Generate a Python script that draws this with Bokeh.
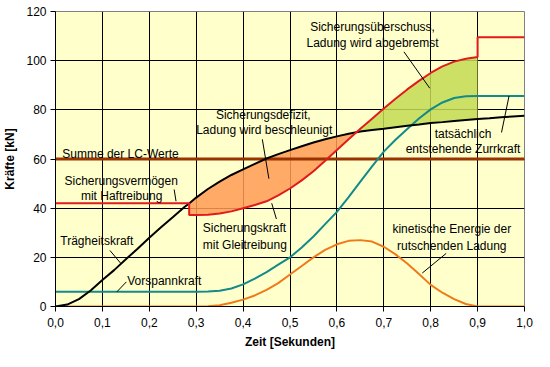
import numpy as np
from bokeh.plotting import figure
from bokeh.models import Range1d, FixedTicker, CustomJSTickFormatter
from bokeh.core.properties import value
from bokeh.embed import file_html
from bokeh.resources import INLINE

# ---------------- data ----------------
t_black = [0.0, 0.025, 0.05, 0.075, 0.1, 0.125, 0.15, 0.175, 0.2, 0.225, 0.25, 0.275, 0.285,
           0.3, 0.325, 0.35, 0.375, 0.4, 0.425, 0.45, 0.475, 0.5, 0.525, 0.55, 0.575, 0.6,
           0.625, 0.65, 0.675, 0.7, 0.725, 0.75, 0.775, 0.8, 0.825, 0.85, 0.875, 0.9,
           0.925, 0.95, 0.975, 1.0]
traegheit = [0.0, 0.8, 3.0, 6.5, 10.8, 14.8, 19.2, 23.5, 28.0, 32.2, 36.3, 40.5, 41.9,
             44.3, 47.8, 50.8, 53.5, 55.8, 58.0, 60.2, 62.0, 63.6, 65.2, 66.7, 68.0, 69.2,
             70.3, 71.2, 71.8, 72.3, 72.9, 73.5, 74.0, 74.6, 75.0, 75.5, 75.9, 76.3,
             76.6, 77.0, 77.3, 77.6]

t_red = [0.0, 0.285, 0.285, 0.3, 0.325, 0.35, 0.375, 0.4, 0.425, 0.45, 0.475, 0.5, 0.525,
         0.55, 0.575, 0.6, 0.625, 0.65, 0.675, 0.7, 0.725, 0.75, 0.775, 0.8, 0.825, 0.85,
         0.875, 0.9, 0.9, 1.0]
sicherung = [42.0, 42.0, 37.2, 37.2, 37.3, 37.8, 38.7, 40.0, 41.3, 42.8, 45.2, 48.0, 51.3,
             55.0, 59.3, 63.7, 68.0, 72.3, 76.4, 80.5, 84.5, 88.3, 91.8, 95.0, 97.7, 99.6,
             100.8, 101.5, 109.5, 109.5]

t_mid = [0.0, 0.3, 0.325, 0.35, 0.375, 0.4, 0.425, 0.45, 0.475, 0.5, 0.525, 0.55, 0.575,
         0.6, 0.625, 0.65, 0.675, 0.7, 0.725, 0.75, 0.775, 0.8, 0.825, 0.85, 0.875, 0.9, 1.0]
vorspann = [6.0, 6.0, 6.1, 6.4, 7.3, 9.0, 11.3, 14.0, 17.0, 20.0, 24.0, 28.5, 33.5,
            38.5, 44.5, 50.8, 57.0, 63.0, 67.8, 72.2, 76.5, 80.2, 83.0, 84.8, 85.5, 85.6, 85.6]
kinetisch = [0.0, 0.0, 0.1, 0.5, 1.5, 2.8, 4.5, 6.8, 9.5, 13.0, 16.5, 20.0, 23.0,
             25.3, 26.7, 27.0, 26.4, 24.3, 21.2, 17.5, 13.2, 8.8, 5.6, 3.0, 1.0, 0.0, 0.0]

lc_summe = 60.0
t_range = [0.0, 1.0]

x_ticks = [0.0, 0.1, 0.2, 0.3, 0.4, 0.5, 0.6, 0.7, 0.8, 0.9, 1.0]
y_ticks = [0, 20, 40, 60, 80, 100, 120]

# annotation texts: (text, x, y)
labels_center = [
    ("Sicherungsvermögen", 0.140, 51.2),
    ("mit Haftreibung", 0.141, 44.8),
    ("Trägheitskraft", 0.088, 26.8),
    ("Sicherungsdefizit,", 0.443, 78.0),
    ("Ladung wird beschleunigt", 0.445, 71.6),
    ("Sicherungsüberschuss,", 0.676, 113.6),
    ("Ladung wird abgebremst", 0.676, 107.2),
    ("tatsächlich", 0.869, 70.0),
    ("entstehende Zurrkraft", 0.869, 64.0),
    ("kinetische Energie der", 0.845, 31.6),
    ("rutschenden Ladung", 0.845, 24.8),
]
labels_left = [
    ("Summe der LC-Werte", 0.0143, 62.2),
    ("Vorspannkraft", 0.153, 10.4),
    ("Sicherungskraft", 0.314, 32.0),
    ("mit Gleitreibung", 0.314, 25.2),
]
# leader lines: x0, y0, x1, y1
leaders = [
    (0.253, 47.6, 0.257, 42.8),
    (0.116, 22.8, 0.139, 17.6),
    (0.151, 10.0, 0.131, 6.0),
    (0.441, 68.0, 0.455, 52.0),
    (0.743, 103.6, 0.798, 88.8),
    (0.951, 70.8, 0.967, 85.6),
    (0.461, 42.0, 0.471, 35.6),
    (0.833, 21.6, 0.782, 13.6),
]

# ---------------- derived fill boundaries ----------------
bmap = dict(zip(t_black, traegheit))
slide_t = t_red[2:-2]
slide_r = sicherung[2:-2]
slide_b = [bmap[t] for t in slide_t]
xs, rs, bs = [], [], []
for i in range(len(slide_t)):
    if i > 0:
        d0 = slide_b[i - 1] - slide_r[i - 1]
        d1 = slide_b[i] - slide_r[i]
        if d0 * d1 < 0:
            f = d0 / (d0 - d1)
            xc = slide_t[i - 1] + f * (slide_t[i] - slide_t[i - 1])
            yc = slide_r[i - 1] + f * (slide_r[i] - slide_r[i - 1])
            xs.append(xc); rs.append(yc); bs.append(yc)
    xs.append(slide_t[i]); rs.append(slide_r[i]); bs.append(slide_b[i])
xs = np.array(xs); rs = np.array(rs); bs = np.array(bs)

# ---------------- figure ----------------
FONT = "Liberation Sans"
p = figure(width=534, height=351, x_range=Range1d(0, 1), y_range=Range1d(0, 120),
           output_backend="svg", toolbar_location=None,
           min_border_left=49, min_border_right=10, min_border_top=11, min_border_bottom=44)
p.background_fill_color = "#FFFFCC"
p.border_fill_color = "white"
p.outline_line_color = "#808080"

for ax in (p.xaxis[0], p.yaxis[0]):
    ax.axis_line_color = "black"
    ax.major_tick_line_color = "black"
    ax.major_tick_out = 5
    ax.major_tick_in = 0
    ax.minor_tick_line_color = None
    ax.major_label_text_font = FONT
    ax.major_label_text_font_size = "12px"
    ax.major_label_text_color = "black"
    ax.axis_label_text_font = FONT
    ax.axis_label_text_font_size = "12px"
    ax.axis_label_text_font_style = "bold"
    ax.axis_label_text_color = "black"

p.xaxis.ticker = FixedTicker(ticks=x_ticks)
p.xgrid.ticker = FixedTicker(ticks=x_ticks)
p.yaxis.ticker = FixedTicker(ticks=y_ticks)
p.ygrid.ticker = FixedTicker(ticks=y_ticks)
p.xaxis.formatter = CustomJSTickFormatter(code="return tick.toFixed(1).replace('.', ',');")
p.xaxis.major_label_standoff = 6
p.xaxis.axis_label = "Zeit [Sekunden]"
p.xaxis.axis_label_standoff = 5
p.yaxis.major_label_standoff = 4
p.yaxis.axis_label = "Kräfte [kN]"
p.yaxis.axis_label_standoff = 6

for g in (p.xgrid, p.ygrid):
    g.grid_line_color = "black"
    g.grid_line_width = 1
    g.grid_line_alpha = 1

# fills
p.varea(x=xs, y1=rs, y2=np.maximum(bs, rs), fill_color="#FF9B54", fill_alpha=0.85)
p.varea(x=xs, y1=bs, y2=np.maximum(rs, bs), fill_color="#C3DA54", fill_alpha=0.85)

# lines
p.line(t_range, [lc_summe, lc_summe], line_color="#993300", line_width=3)
p.line(t_mid, kinetisch, line_color="#F07A1A", line_width=2)
p.line(t_mid, vorspann, line_color="#138A8A", line_width=2)
p.line(t_black, traegheit, line_color="black", line_width=2)
p.line(t_red, sicherung, line_color="#E31A1C", line_width=2)

# leader lines
p.segment(x0=[l[0] for l in leaders], y0=[l[1] for l in leaders],
          x1=[l[2] for l in leaders], y1=[l[3] for l in leaders],
          line_color="black", line_width=1)

# texts
p.text(x=[l[1] for l in labels_center], y=[l[2] for l in labels_center],
       text=[l[0] for l in labels_center], text_font=value(FONT), text_font_size="12px",
       text_align="center", text_baseline="middle", text_color="black")
p.text(x=[l[1] for l in labels_left], y=[l[2] for l in labels_left],
       text=[l[0] for l in labels_left], text_font=value(FONT), text_font_size="12px",
       text_align="left", text_baseline="middle", text_color="black")

open("out.html", "w").write(file_html(p, INLINE))
